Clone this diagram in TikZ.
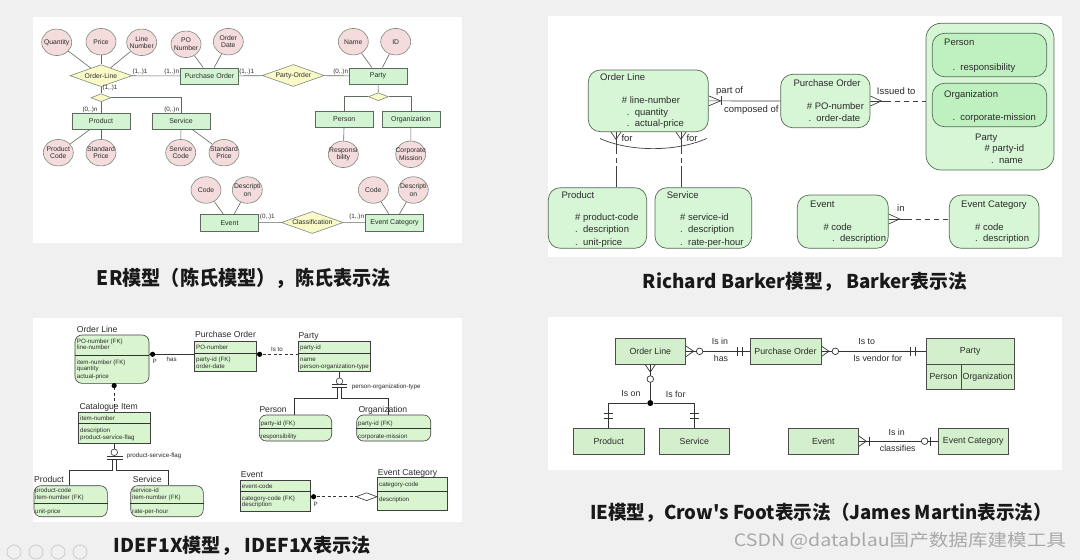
\documentclass[tikz,border=0pt]{standalone}
\usepackage{fontspec}
\setmainfont{Liberation Sans}
\newfontfamily\cjk{Noto Sans CJK SC}
\usetikzlibrary{shapes.geometric,calc}
\pgfdeclarelayer{back}
\pgfdeclarelayer{lines}
\pgfsetlayers{back,lines,main}

\definecolor{pagebg}{HTML}{F0F0F0}
\definecolor{ink}{HTML}{2B2B2B}
\definecolor{erpink}{HTML}{F4DCDC}
\definecolor{ergreen}{HTML}{D2F4D2}
\definecolor{eryellow}{HTML}{FAFAC8}
\definecolor{erline}{HTML}{5F6A5F}
\definecolor{bkfill}{HTML}{D6F6D6}
\definecolor{bkinner}{HTML}{BFF0BF}
\definecolor{bkline}{HTML}{556B55}
\definecolor{idfill}{HTML}{D9F5D0}
\definecolor{iefill}{HTML}{D4EFCB}
\definecolor{capgray}{HTML}{A8A8A8}

\tikzset{
  every node/.style={text=ink},
  % Chen notation
  erent/.style={draw=erline, fill=ergreen, line width=0.6pt, minimum width=57.6pt,
    minimum height=16.3pt, inner sep=0pt, font=\fontsize{7}{8}\selectfont},
  erattr/.style={ellipse, draw=erline!80, fill=erpink, line width=0.6pt, minimum width=30pt,
    minimum height=26.5pt, inner xsep=-5pt, inner ysep=0pt, align=center,
    font=\fontsize{6.8}{7.3}\selectfont},
  errel/.style={diamond, draw=erline!80, fill=eryellow, line width=0.6pt, minimum width=62pt,
    minimum height=22pt, inner sep=0pt, aspect=2.8, font=\fontsize{6.8}{8}\selectfont},
  ersub/.style={diamond, draw=erline!80, fill=eryellow, line width=0.6pt, minimum width=20pt,
    minimum height=8pt, inner sep=0pt, aspect=2.5},
  erlink/.style={draw=erline, line width=0.6pt},
  card/.style={inner sep=0pt, font=\fontsize{6.3}{7}\selectfont},
  % Barker notation
  bk/.style={draw=bkline, fill=bkfill, line width=0.7pt, rounded corners=12pt, inner sep=0pt},
  bkin/.style={bk, fill=bkinner},
  bktxt/.style={anchor=base west, inner sep=0pt, font=\fontsize{9.5}{10}\selectfont},
  bkl/.style={draw=black!75, line width=0.7pt},
  bkdash/.style={bkl, dash pattern=on 5pt off 4pt},
  % IDEF1X notation
  idbox/.style={draw=black!75, fill=idfill, line width=0.6pt, inner sep=0pt},
  iddep/.style={idbox, rounded corners=7pt},
  idtitle/.style={anchor=base west, inner sep=0pt, font=\fontsize{8.6}{9}\selectfont},
  idattr/.style={anchor=base west, inner sep=0pt, font=\fontsize{6.2}{7}\selectfont},
  idl/.style={draw=black!80, line width=0.6pt},
  iddash/.style={idl, dash pattern=on 3pt off 2.5pt},
  iddot/.style={circle, fill=black, minimum size=5.2pt, inner sep=0pt},
  idcirc/.style={circle, draw=black!80, fill=white, line width=0.6pt, minimum size=6.6pt, inner sep=0pt},
  % Information Engineering notation
  ie/.style={draw=black!70, fill=iefill, line width=0.7pt, inner sep=0pt, minimum height=26pt,
    font=\fontsize{8.8}{9}\selectfont},
  iel/.style={draw=black!80, line width=0.7pt},
  ielbl/.style={inner sep=0pt, font=\fontsize{8.8}{9}\selectfont},
  iecirc/.style={circle, draw=black!80, fill=white, line width=0.7pt, minimum size=6.6pt, inner sep=0pt},
  iedot/.style={circle, fill=black, minimum size=6pt, inner sep=0pt},
  caption/.style={inner sep=0pt, text=black!90, font=\cjk\bfseries},
}

\begin{document}
\begin{tikzpicture}[x=1pt,y=-1pt]
\useasboundingbox (0,0) rectangle (1080,560);

\begin{pgfonlayer}{back}
  \fill[pagebg] (0,0) rectangle (1080,560);
  \fill[white] (33,17) rectangle (462,243);
  \fill[white] (548,16) rectangle (1062,257);
  \fill[white] (33,318) rectangle (462,522);
  \fill[white] (548,317) rectangle (1062,470);
  % toolbar icons, bottom left
  \foreach \ix in {14,36,58,80}
    \draw[black!20, line width=0.8pt] (\ix,552) circle (7);
\end{pgfonlayer}

% ================= Chen ER =================
\node[erattr] (qty)   at (56.7,42.3)  {Quantity};
\node[erattr] (price) at (101,41.7)   {Price};
\node[erattr] (lnum)  at (141.7,42.3) {Line\\Number};
\node[erattr] (ponum) at (186,44.3)   {PO\\Number};
\node[erattr] (odate) at (228.3,41.7) {Order\\Date};
\node[erattr] (pname) at (353.3,41.7) {Name};
\node[erattr] (pid)   at (395.7,41.7) {ID};
\node[errel]  (olrel) at (101,75.7)   {Order-Line};
\node[erent]  (po)    at (209.5,76)   {Purchase Order};
\node[errel]  (porel) at (293.3,75.5) {Party-Order};
\node[erent]  (party) at (378,76)     {Party};
\node[ersub]  (sub1)  at (101,97.7)   {};
\node[erent]  (prod)  at (101,121.3)  {Product};
\node[erent]  (serv)  at (181,121.3)  {Service};
\node[erattr] (pcode) at (58.3,152.7) {Product\\Code};
\node[erattr] (pprice) at (101,152.7) {Standard\\Price};
\node[erattr] (scode) at (180.7,152.7) {Service\\Code};
\node[erattr] (sprice) at (224,152.7) {Standard\\Price};
\node[ersub]  (sub2)  at (378.3,96.7) {};
\node[erent]  (person) at (344.2,119.5) {Person};
\node[erent]  (org)   at (411,119.5)  {Organization};
\node[erattr] (resp)  at (343.3,154.3) {Responsi\\bility};
\node[erattr] (cmis)  at (410.7,154.3) {Corporate\\Mission};
\node[erattr] (ecode) at (206,190)    {Code};
\node[erattr] (edesc) at (247.3,190)  {Descripti\\on};
\node[erent]  (event) at (229.5,222.7) {Event};
\node[errel]  (classif) at (312.3,222.5) {Classification};
\node[erent]  (ecat)  at (394.5,222.7) {Event Category};
\node[erattr] (ccode) at (373.3,190)  {Code};
\node[erattr] (cdesc) at (413.3,190)  {Descripti\\on};

\begin{pgfonlayer}{lines}
  \draw[erlink] (qty) -- (olrel);
  \draw[erlink] (price) -- (olrel);
  \draw[erlink] (lnum) -- (olrel);
  \draw[erlink] (ponum) -- (po);
  \draw[erlink] (odate) -- (po);
  \draw[erlink] (pname) -- (party);
  \draw[erlink] (pid) -- (party);
  \draw[erlink] (olrel) -- (po);
  \draw[erlink] (po) -- (porel);
  \draw[erlink] (porel) -- (party);
  \draw[erlink] (olrel) -- (sub1);
  \draw[erlink] (sub1) -- (prod);
  \draw[erlink] (sub1.east) -| (serv.north);
  \draw[erlink] (prod) -- (pcode);
  \draw[erlink] (prod) -- (pprice);
  \draw[erlink] (serv) -- (scode);
  \draw[erlink] (serv) -- (sprice);
  \draw[erlink] (party) -- (sub2);
  \draw[erlink] (sub2.west) -| (person.north);
  \draw[erlink] (sub2.east) -| (org.north);
  \draw[erlink] (person) -- (resp);
  \draw[erlink] (org) -- (cmis);
  \draw[erlink] (event) -- (ecode);
  \draw[erlink] (event) -- (edesc);
  \draw[erlink] (event) -- (classif);
  \draw[erlink] (classif) -- (ecat);
  \draw[erlink] (ecat) -- (ccode);
  \draw[erlink] (ecat) -- (cdesc);
\end{pgfonlayer}

\node[card] (c1) at (140,71.7)   {(1,.)1};
\node[card] (c2) at (171.7,71.7) {(1,.)n};
\node[card] (c3) at (246.7,71.7) {(1,.)1};
\node[card] (c4) at (340.7,71.7) {(0,.)n};
\node[card] (c5) at (110,88.3)   {(1,.)1};
\node[card] (c6) at (90,110)     {(0,.)n};
\node[card] (c7) at (171.7,110)  {(0,.)n};
\node[card] (c8) at (267.3,217.3) {(0,.)1};
\node[card] (c9) at (356.7,217.3) {(1,.)n};

% ================= Barker =================
\node[bk, minimum width=120pt, minimum height=61.7pt]   (bOL) at (648.3,100.85) {};
\node[bk, minimum width=89.3pt, minimum height=53.4pt]  (bPO) at (825.35,101) {};
\node[bk, rounded corners=15pt, minimum width=128pt, minimum height=146.7pt] (bParty) at (990,96.65) {};
\node[bkin, minimum width=114.4pt, minimum height=43.4pt] (bPerson) at (989.5,55) {};
\node[bkin, minimum width=114.4pt, minimum height=43.4pt] (bOrg) at (989.5,105) {};
\node[bk, minimum width=98.4pt, minimum height=60.6pt]  (bProd) at (597.5,218) {};
\node[bk, minimum width=96.7pt, minimum height=60.6pt]  (bServ) at (703.35,218) {};
\node[bk, minimum width=91pt, minimum height=53.3pt]    (bEvent) at (842.8,221.65) {};
\node[bk, minimum width=89.7pt, minimum height=53.3pt]  (bEC) at (994.15,221.65) {};

\node[bktxt] at (600,80)    {Order Line};
\node[bktxt] at (621.7,103.4) {\# line-number};
\node[bktxt] at (626.7,115.7) {.\ \ quantity};
\node[bktxt] at (626.7,126.7) {.\ \ actual-price};
\node[bktxt] at (793.3,86.1) {Purchase Order};
\node[bktxt] at (806.7,109.4) {\# PO-number};
\node[bktxt] at (808.3,121.7) {.\ \ order-date};
\node[bktxt] at (944,45.7)  {Person};
\node[bktxt] at (952.3,70.1) {.\ \ responsibility};
\node[bktxt] at (944,97.4)  {Organization};
\node[bktxt] at (952.3,120.1) {.\ \ corporate-mission};
\node[bktxt] at (975,140.1) {Party};
\node[bktxt] at (984.3,151.7) {\# party-id};
\node[bktxt] at (991,163.4) {.\ \ name};
\node[bktxt] at (561.3,198.4) {Product};
\node[bktxt] at (575,220.7) {\# product-code};
\node[bktxt] at (575,232.7) {.\ \ description};
\node[bktxt] at (575,245.1) {.\ \ unit-price};
\node[bktxt] at (666.7,198.4) {Service};
\node[bktxt] at (680,220.7) {\# service-id};
\node[bktxt] at (680,232.7) {.\ \ description};
\node[bktxt] at (680,245.1) {.\ \ rate-per-hour};
\node[bktxt] at (810,207.7) {Event};
\node[bktxt] at (823.3,230.1) {\# code};
\node[bktxt] at (832,241.7) {.\ \ description};
\node[bktxt] at (961,207.7) {Event Category};
\node[bktxt] at (975,230.1) {\# code};
\node[bktxt] at (975,241.7) {.\ \ description};

\coordinate (f1) at ($(bOL.south)+(-32.3,0)$);
\coordinate (f2) at ($(bOL.south)+(32.7,0)$);
\coordinate (evr) at ($(bEvent.east)+(0,-2.65)$);
\begin{pgfonlayer}{lines}
  % Order Line -- Purchase Order
  \draw[bkl] (bOL.east) -- (bPO.west);
  \draw[bkl] ($(bOL.east)+(0,-5)$) -- ($(bOL.east)+(12,0)$) -- ($(bOL.east)+(0,5)$);
  \draw[bkl] ($(bOL.east)+(12.7,-4.5)$) -- ++(0,9);
  % Purchase Order -- Party
  \draw[bkl] (bPO.east) -- ($(bPO.east)+(16,0)$);
  \draw[bkdash] ($(bPO.east)+(16,0)$) -- (bParty.west |- bPO.east);
  \draw[bkl] ($(bPO.east)+(0,-5)$) -- ($(bPO.east)+(11,0)$) -- ($(bPO.east)+(0,5)$);
  % Event -- Event Category
  \draw[bkl] (evr) -- ($(evr)+(18,0)$);
  \draw[bkdash] ($(evr)+(18,0)$) -- (bEC.west |- evr);
  \draw[bkl] ($(evr)+(0,-5)$) -- ($(evr)+(11,0)$) -- ($(evr)+(0,5)$);
  % Order Line -- Product / Service, exclusive arc
  \foreach \f/\t in {f1/bProd, f2/bServ} {
    \draw[bkl] ($(\f)+(-5,0)$) -- ($(\f)+(0,7.3)$) -- ($(\f)+(5,0)$);
    \draw[bkl] (\f) -- ($(\f)+(0,17)$);
    \draw[bkdash] ($(\f)+(0,17)$) -- ($(\f)+(0,34)$);
    \draw[bkl] ($(\f)+(0,34)$) -- (\f |- \t.north);
  }
  \draw[bkl] (600,138.5) .. controls (630,152) and (676,152) .. (706.7,138.5);
\end{pgfonlayer}
\node[bktxt] at (716,93.4)   {part of};
\node[bktxt] at (724,112.4)  {composed of};
\node[bktxt] at (876.7,94.4) {Issued to};
\node[bktxt] at (897,211)    {in};
\node[bktxt] at (621.3,141.7) {for};
\node[bktxt] at (686.3,141.7) {for};

% ================= IDEF1X =================
\node[iddep, minimum width=74pt, minimum height=48.3pt]  (iOL) at (112,359.15) {};
\node[idbox, minimum width=62.4pt, minimum height=30.7pt] (iPO) at (225.5,356.35) {};
\node[idbox, minimum width=72.4pt, minimum height=30pt]  (iParty) at (334.5,356.7) {};
\node[iddep, minimum width=72.4pt, minimum height=26pt]  (iPerson) at (295.5,428) {};
\node[iddep, minimum width=74pt, minimum height=26pt]    (iOrg) at (393.7,428) {};
\node[idbox, minimum width=71.7pt, minimum height=31pt]  (iCI) at (114.15,427.8) {};
\node[iddep, minimum width=73.3pt, minimum height=31pt]  (iProd) at (70.65,501.2) {};
\node[iddep, minimum width=72.6pt, minimum height=31pt]  (iServ) at (167,501.2) {};
\node[idbox, minimum width=70.7pt, minimum height=31.7pt] (iEvent) at (275.35,495.85) {};
\node[idbox, minimum width=69.6pt, minimum height=32.3pt] (iEC) at (412.5,493.85) {};

% key / non-key separators
\draw[idl] (iOL.west |- 0,355) -- (iOL.east |- 0,355);
\draw[idl] (iPO.west |- 0,353.3) -- (iPO.east |- 0,353.3);
\draw[idl] (iParty.west |- 0,353.3) -- (iParty.east |- 0,353.3);
\draw[idl] (iPerson.west |- 0,428.3) -- (iPerson.east |- 0,428.3);
\draw[idl] (iOrg.west |- 0,428.3) -- (iOrg.east |- 0,428.3);
\draw[idl] (iCI.west |- 0,423.3) -- (iCI.east |- 0,423.3);
\draw[idl] (iProd.west |- 0,503.3) -- (iProd.east |- 0,503.3);
\draw[idl] (iServ.west |- 0,503.3) -- (iServ.east |- 0,503.3);
\draw[idl] (iEvent.west |- 0,491.7) -- (iEvent.east |- 0,491.7);
\draw[idl] (iEC.west |- 0,491) -- (iEC.east |- 0,491);

\node[idtitle] at (76.7,332)  {Order Line};
\node[idtitle] at (195,337.3) {Purchase Order};
\node[idtitle] at (298.3,338.7) {Party};
\node[idtitle] at (259.3,412.3) {Person};
\node[idtitle] at (358.3,412.3) {Organization};
\node[idtitle] at (79.3,409.7) {Catalogue Item};
\node[idtitle] at (34,482)    {Product};
\node[idtitle] at (132.7,482) {Service};
\node[idtitle] at (240.7,477) {Event};
\node[idtitle] at (377.7,475.3) {Event Category};

\node[idattr] at (76.7,343.3) {PO-number (FK)};
\node[idattr] at (76.7,349.6) {line-number};
\node[idattr] at (76.7,364)   {item-number (FK)};
\node[idattr] at (76.7,370.6) {quantity};
\node[idattr] at (76.7,378)   {actual-price};
\node[idattr] at (196,349)    {PO-number};
\node[idattr] at (196,361.6)  {party-id (FK)};
\node[idattr] at (196,368)    {order-date};
\node[idattr] at (300,349.6)  {party-id};
\node[idattr] at (300,361.6)  {name};
\node[idattr] at (300,368)    {person-organization-type};
\node[idattr] at (260.5,425)  {party-id (FK)};
\node[idattr] at (260.5,438)  {responsibility};
\node[idattr] at (358,425)    {party-id (FK)};
\node[idattr] at (358,438)    {corporate-mission};
\node[idattr] at (80,420)     {item-number};
\node[idattr] at (80,432.3)   {description};
\node[idattr] at (80,439)     {product-service-flag};
\node[idattr] at (35,492.3)   {product-code};
\node[idattr] at (35,499)     {item-number (FK)};
\node[idattr] at (35,513.3)   {unit-price};
\node[idattr] at (132,492.3)  {service-id};
\node[idattr] at (132,499)    {item-number (FK)};
\node[idattr] at (132,513.3)  {rate-per-hour};
\node[idattr] at (241.7,488.3) {event-code};
\node[idattr] at (241.7,500)  {category-code (FK)};
\node[idattr] at (241.7,506.6) {description};
\node[idattr] at (379,486.6)  {category-code};
\node[idattr] at (379,501.3)  {description};

\coordinate (i1) at (iOL.east |- 0,354.3);
\coordinate (i2) at (iPO.east |- 0,354.3);
\coordinate (i3) at (iEvent.east |- 0,496.7);
\node[idcirc] (ic1) at (339.5,381.2) {};
\node[idcirc] (ic2) at (114.3,452.3) {};
\node[diamond, draw=black!80, fill=white, line width=0.6pt, minimum width=21pt,
      minimum height=8pt, inner sep=0pt, aspect=2.6] (idia) at (366.6,496.7) {};
\begin{pgfonlayer}{lines}
  \draw[idl] (i1) -- (iPO.west |- i1);
  \draw[iddash] (i2) -- (iParty.west |- i2);
  \draw[iddash] (iCI.north) -- (iCI.north |- iOL.south);
  \draw[iddash] (i3) -- (idia.west);
  % Party categories
  \draw[idl] (iParty.south -| ic1) -- (ic1);
  \draw[idl] (331.7,384.5) -- (347.3,384.5);
  \draw[idl] (331.7,387.7) -- (347.3,387.7);
  \draw[idl] (337.3,387.7) -- (337.3,398.5) -| (294.3,0 |- iPerson.north);
  \draw[idl] (341.7,387.7) -- (341.7,398.5) -| (388,0 |- iOrg.north);
  % Catalogue Item categories
  \draw[idl] (iCI.south -| ic2) -- (ic2);
  \draw[idl] (106.7,456) -- (123,456);
  \draw[idl] (106.7,459) -- (123,459);
  \draw[idl] (112,459) -- (112,470) -| (69,0 |- iProd.north);
  \draw[idl] (116.6,459) -- (116.6,470) -| (168.3,0 |- iServ.north);
\end{pgfonlayer}
\node[iddot] (d1) at ($(i1)+(3.3,0)$) {};
\node[iddot] (d2) at ($(i2)+(2.6,0)$) {};
\node[iddot] (d3) at ($(iCI.north |- iOL.south)+(0,2)$) {};
\node[iddot] (d4) at ($(i3)+(2.6,0)$) {};
\node[idattr] at (152.5,363.5) {P};
\node[idattr] at (166.5,361.2) {has};
\node[idattr] at (271,351.2)   {Is to};
\node[idattr] at (351.7,388.2) {person-organization-type};
\node[idattr] at (126.7,457.9) {product-service-flag};
\node[idattr] at (313.5,506.2) {P};

% ================= Information Engineering =================
\node[ie, minimum width=70.7pt] (eOL) at (650.3,351.3) {Order Line};
\node[ie, minimum width=71pt]   (ePO) at (785.5,351.3) {Purchase Order};
\node[ie, minimum width=88.3pt] (eParty) at (970.15,351.3) {Party};
\node[ie, minimum width=35pt, minimum height=25pt]   (ePerson) at (943.5,376.8) {Person};
\node[ie, minimum width=53.3pt, minimum height=25pt] (eOrg) at (987.65,376.8) {Organization};
\node[ie, minimum width=70.7pt, minimum height=25.7pt] (eProd) at (608.7,441.2) {Product};
\node[ie, minimum width=70pt, minimum height=25.7pt]   (eServ) at (694.3,441.2) {Service};
\node[ie, minimum width=70pt, minimum height=25.7pt]   (eEvent) at (823.3,441.2) {Event};
\node[ie, minimum width=70pt, minimum height=25.7pt]   (eEC) at (973.3,441.2) {Event Category};

\node[iecirc] (ec1) at ($(eOL.east)+(13.6,0)$) {};
\node[iecirc] (ec2) at ($(ePO.east)+(14,0)$) {};
\node[iecirc] (ec3) at ($(eOL.south)+(0,14.4)$) {};
\node[iecirc] (ec4) at ($(eEC.west)+(-13.3,0)$) {};
\node[iedot]  (ejn) at ($(eOL.south)+(0,38.4)$) {};
\begin{pgfonlayer}{lines}
  \draw[iel] (eOL) -- (ePO);
  \draw[iel] ($(eOL.east)+(0,-5.3)$) -- ($(eOL.east)+(7.6,0)$) -- ($(eOL.east)+(0,5.3)$);
  \draw[iel] ($(ePO.west)+(-12.3,-4.5)$) -- ++(0,9);
  \draw[iel] ($(ePO.west)+(-7.3,-4.5)$) -- ++(0,9);
  \draw[iel] (ePO) -- (eParty);
  \draw[iel] ($(ePO.east)+(0,-5.3)$) -- ($(ePO.east)+(7.6,0)$) -- ($(ePO.east)+(0,5.3)$);
  \draw[iel] ($(eParty.west)+(-15.3,-4.5)$) -- ++(0,9);
  \draw[iel] ($(eParty.west)+(-10.3,-4.5)$) -- ++(0,9);
  \draw[iel] (eOL.south) -- (ejn);
  \draw[iel] ($(eOL.south)+(-5,0)$) -- ($(eOL.south)+(0,7.4)$) -- ($(eOL.south)+(5,0)$);
  \draw[iel] (ejn) -| (eProd.north);
  \draw[iel] (ejn) -| (eServ.north);
  \foreach \b in {eProd, eServ} {
    \draw[iel] ($(\b.north)+(-4.5,-14.3)$) -- ++(9,0);
    \draw[iel] ($(\b.north)+(-4.5,-9.3)$) -- ++(9,0);
  }
  \draw[iel] (eEvent) -- (eEC);
  \draw[iel] ($(eEvent.east)+(0,-5.3)$) -- ($(eEvent.east)+(7.6,0)$) -- ($(eEvent.east)+(0,5.3)$);
  \draw[iel] ($(eEvent.east)+(10.7,-4.5)$) -- ++(0,9);
  \draw[iel] ($(eEC.west)+(-7.3,-4.5)$) -- ++(0,9);
\end{pgfonlayer}
\node[ielbl] at (720,341.7)   {Is in};
\node[ielbl] at (721,358.3)   {has};
\node[ielbl] at (866.7,341.7) {Is to};
\node[ielbl] at (877.7,358.3) {Is vendor for};
\node[ielbl] at (631,394)     {Is on};
\node[ielbl] at (675.7,394)   {Is for};
\node[ielbl] at (896.7,432.3) {Is in};
\node[ielbl] at (897.7,448.3) {classifies};

% ================= captions =================
\node[caption] (cap1) at (244,278)
  {\resizebox{294pt}{\height}{\fontsize{20}{21}\selectfont ER模型（陈氏模型），陈氏表示法}};
\node[caption] (cap2) at (805,282)
  {\resizebox{324pt}{\height}{\fontsize{19}{20}\selectfont Richard Barker模型， Barker表示法}};
\node[caption] (cap3) at (242.5,546)
  {\resizebox{257pt}{\height}{\fontsize{19}{20}\selectfont IDEF1X模型， IDEF1X表示法}};
\node[caption] (cap4) at (821,513)
  {\resizebox{462pt}{\height}{\fontsize{19}{20}\selectfont IE模型，Crow's Foot表示法（James Martin表示法）}};
\node[inner sep=0pt, text=capgray, font=\cjk] (mark) at (900,541)
  {\resizebox{332pt}{\height}{\fontsize{17}{18}\selectfont CSDN @datablau国产数据库建模工具}};
\end{tikzpicture}
\end{document}
